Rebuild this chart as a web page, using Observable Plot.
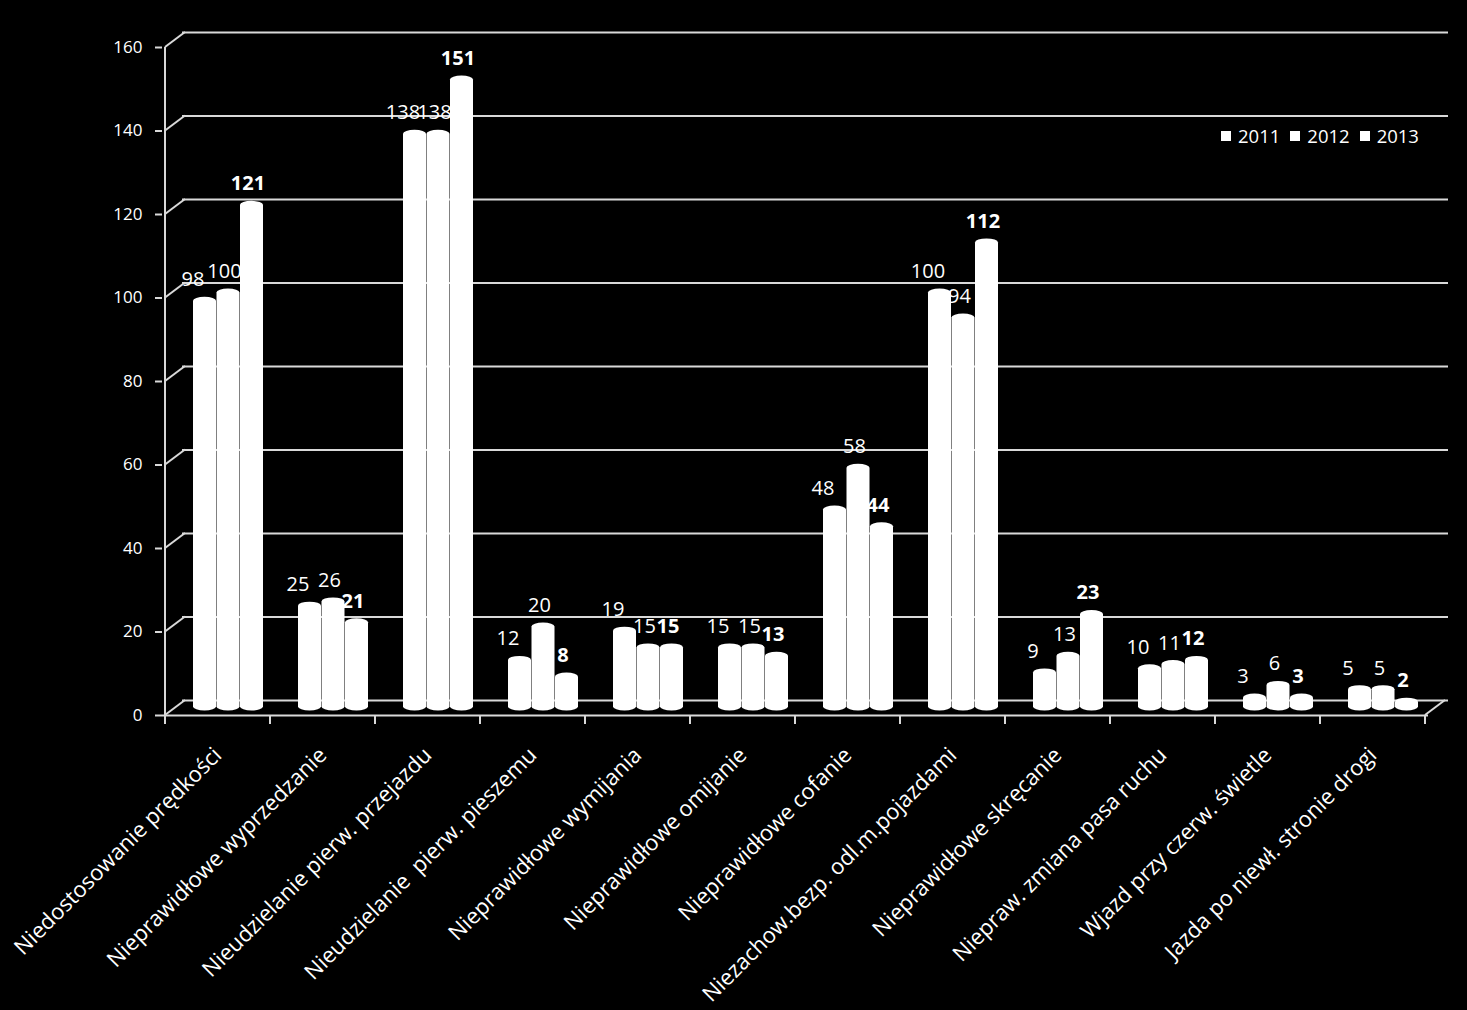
<!DOCTYPE html>
<html><head><meta charset="utf-8">
<script src="https://cdn.jsdelivr.net/npm/d3@7"></script>
<script src="https://cdn.jsdelivr.net/npm/@observablehq/plot@0.6"></script>
<style>
body{margin:0;background:#000;}
#wrap{position:relative;width:1467px;height:1010px;background:#000;}
#legend{position:absolute;left:1221px;top:124px;color:#fff;font-family:"Open Sans";font-size:18.5px;display:flex;align-items:center;line-height:24px;}
#legend .it{display:flex;align-items:center;margin-right:10px;}
#legend .sw{width:10px;height:10px;background:#fff;margin-right:7px;}
</style>
</head><body>
<div id="wrap"><div id="chart"></div><div id="legend"></div></div>
<script>
const categories = [
  "Niedostosowanie prędkości",
  "Nieprawidłowe wyprzedzanie",
  "Nieudzielanie pierw. przejazdu",
  "Nieudzielanie  pierw. pieszemu",
  "Nieprawidłowe wymijania",
  "Nieprawidłowe omijanie",
  "Nieprawidłowe cofanie",
  "Niezachow.bezp. odl.m.pojazdami",
  "Nieprawidłowe skręcanie",
  "Niepraw. zmiana pasa ruchu",
  "Wjazd przy czerw. świetle",
  "Jazda po niewł. stronie drogi"
];
const years = ["2011", "2012", "2013"];
const values2011 = [98, 25, 138, 12, 19, 15, 48, 100, 9, 10, 3, 5];
const values2012 = [100, 26, 138, 20, 15, 15, 58, 94, 13, 11, 6, 5];
const values2013 = [121, 21, 151, 8, 15, 13, 44, 112, 23, 12, 3, 2];
const yTicks = [0, 20, 40, 60, 80, 100, 120, 140, 160];

const series = [values2011, values2012, values2013];
const rows = categories.flatMap((c, i) => years.map((yr, j) => ({cat: c, year: yr, j, value: series[j][i]})));

const W = 1467, H = 1010, ML = 162, MR = 39, MT = 47, MB = 295;
const bw = (W - ML - MR) / categories.length;
const depthX = 20, depthY = -15;
const barW = 23.5, barStart = 28;
const labelShift = [-12, -4, -4];
const lineColor = "#d9d9d9";
const font = "Open Sans";

const plot = Plot.plot({
  width: W, height: H,
  marginLeft: ML, marginRight: MR, marginTop: MT, marginBottom: MB,
  style: {background: "#000", color: "#fff", fontFamily: font, overflow: "visible"},
  x: {type: "band", domain: categories, padding: 0, axis: null, label: null},
  y: {domain: [0, 160], axis: null, label: null},
  marks: [
    Plot.ruleY(yTicks, {dx: depthX, dy: depthY, stroke: lineColor, strokeWidth: 2}),
    Plot.ruleY([0], {stroke: lineColor, strokeWidth: 2}),
    ...years.map((yr, j) => Plot.barY(rows.filter(r => r.j === j), {
      x: "cat", y: "value", fill: "#fff",
      insetLeft: barStart + j * barW,
      insetRight: bw - barStart - (j + 1) * barW,
      insetTop: -4.5, dy: -4.5,
      rx: barW / 2, ry: 4
    })),
    ...years.map((yr, j) => Plot.text(rows.filter(r => r.j === j), {
      x: "cat", y: "value", text: d => String(d.value),
      dx: barStart + (j + 0.5) * barW - bw / 2 + labelShift[j], dy: -20,
      lineAnchor: "bottom", fill: "#fff", fontSize: 20,
      fontWeight: j === 2 ? "bold" : "normal"
    })),
    Plot.axisY({ticks: yTicks, tickSize: 7, tickPadding: 13, fontSize: 17, stroke: lineColor, strokeWidth: 2, fill: "#fff", label: null}),
    Plot.axisX({tickRotate: -45, tickSize: 0, tickPadding: 36, fontSize: 22, dx: 0, fill: "#fff", label: null})
  ]
});

// 3D decorations drawn with the plot's own scales
const sx = plot.scale("x"), sy = plot.scale("y");
const x0 = sx.apply(categories[0]);
const xEnd = sx.apply(categories[categories.length - 1]) + sx.bandwidth;
const g = d3.select(plot).append("g").attr("stroke", lineColor).attr("stroke-width", 2).attr("fill", "none");
yTicks.forEach(v => {
  g.append("line").attr("x1", x0).attr("y1", sy.apply(v)).attr("x2", x0 + depthX).attr("y2", sy.apply(v) + depthY);
});
g.append("line").attr("x1", x0).attr("x2", x0).attr("y1", sy.apply(0)).attr("y2", sy.apply(160));
g.append("line").attr("x1", xEnd).attr("y1", sy.apply(0)).attr("x2", xEnd + depthX).attr("y2", sy.apply(0) + depthY);
categories.forEach(c => {
  const xx = sx.apply(c);
  g.append("line").attr("x1", xx).attr("x2", xx).attr("y1", sy.apply(0)).attr("y2", sy.apply(0) + 9);
});
g.append("line").attr("x1", xEnd).attr("x2", xEnd).attr("y1", sy.apply(0)).attr("y2", sy.apply(0) + 9);

document.getElementById("chart").appendChild(plot);

const legend = document.getElementById("legend");
years.forEach(yr => {
  const it = document.createElement("div"); it.className = "it";
  const sw = document.createElement("div"); sw.className = "sw";
  const t = document.createElement("span"); t.textContent = yr;
  it.appendChild(sw); it.appendChild(t); legend.appendChild(it);
});
</script>
</body></html>
